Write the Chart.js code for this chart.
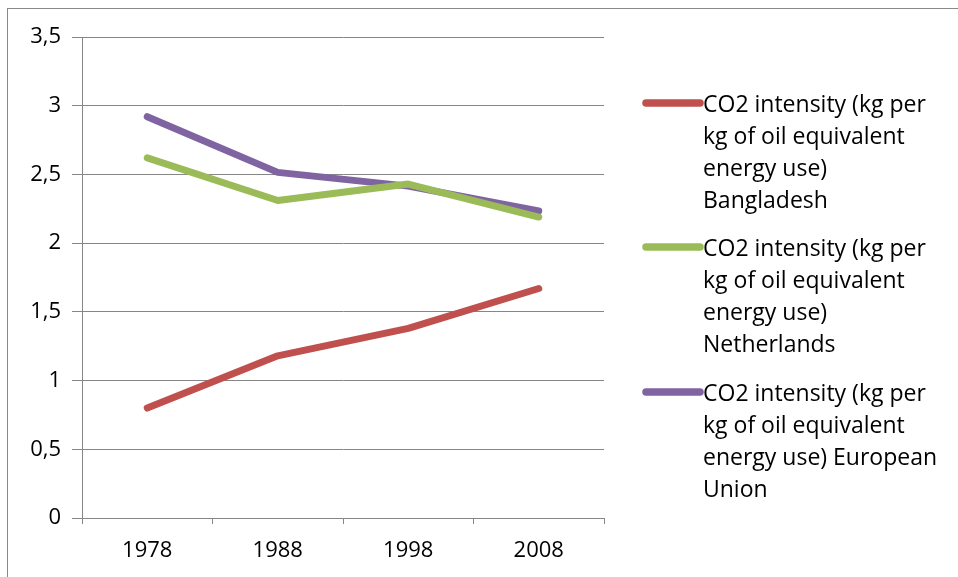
<!DOCTYPE html>
<html>
<head>
<meta charset="utf-8">
<script src="https://cdn.jsdelivr.net/npm/chart.js@4"></script>
<style>
html,body{margin:0;padding:0;background:#fff;}
#wrap{position:relative;width:958px;height:577px;}
</style>
</head>
<body>
<div id="wrap"><canvas id="c" width="958" height="577"></canvas></div>
<script>
const categories = ['1978', '1988', '1998', '2008'];
const bangladesh = [0.80, 1.18, 1.38, 1.67];
const netherlands = [2.62, 2.31, 2.43, 2.19];
const europeanUnion = [2.92, 2.515, 2.415, 2.235];
const seriesLabels = [
  ['CO2 intensity (kg per', 'kg of oil equivalent', 'energy use)', 'Bangladesh'],
  ['CO2 intensity (kg per', 'kg of oil equivalent', 'energy use)', 'Netherlands'],
  ['CO2 intensity (kg per', 'kg of oil equivalent', 'energy use) European', 'Union']
];
const seriesColors = ['#C0504D', '#9BBB59', '#8064A2'];
const yTicks = [0, 0.5, 1, 1.5, 2, 2.5, 3, 3.5];

const FONT = '"Open Sans", "Liberation Sans", sans-serif';

const framePlugin = {
  id: 'frame',
  beforeDraw(chart) {
    const ctx = chart.ctx;
    ctx.save();
    ctx.fillStyle = '#fff';
    ctx.fillRect(0, 0, chart.width, chart.height);
    ctx.strokeStyle = '#8a8a8a';
    ctx.lineWidth = 1;
    ctx.strokeRect(7.5, 8.5, chart.width + 10, chart.height + 10);
    ctx.restore();
  }
};

const legendPlugin = {
  id: 'customLegend',
  afterDraw(chart) {
    const ctx = chart.ctx;
    const starts = [103, 247, 392];
    const lineH = 32;
    ctx.save();
    ctx.font = '23px ' + FONT;
    ctx.textBaseline = 'middle';
    ctx.textAlign = 'left';
    chart.data.datasets.forEach((ds, i) => {
      const y0 = starts[i];
      ctx.strokeStyle = ds.borderColor;
      ctx.lineWidth = 7.5;
      ctx.lineCap = 'round';
      ctx.beginPath();
      ctx.moveTo(646, y0);
      ctx.lineTo(700, y0);
      ctx.stroke();
      ctx.fillStyle = '#000';
      seriesLabels[i].forEach((t, k) => {
        ctx.fillText(t, 703, y0 + 2 + k * lineH);
      });
    });
    ctx.restore();
  }
};

const makeDs = (data, i) => ({
  label: seriesLabels[i].join(' '),
  data: data,
  borderColor: seriesColors[i],
  backgroundColor: seriesColors[i],
  borderWidth: 7,
  borderCapStyle: 'round',
  borderJoinStyle: 'round',
  pointRadius: 0,
  pointHoverRadius: 0,
  tension: 0,
  fill: false
});

new Chart(document.getElementById('c'), {
  type: 'line',
  data: {
    labels: categories,
    datasets: [makeDs(bangladesh, 0), makeDs(netherlands, 1), makeDs(europeanUnion, 2)]
  },
  options: {
    responsive: false,
    animation: false,
    events: [],
    layout: { padding: { left: 0, right: 354, top: 37, bottom: 0 } },
    plugins: { legend: { display: false }, tooltip: { enabled: false } },
    scales: {
      x: {
        type: 'category',
        offset: true,
        grid: { display: true, drawOnChartArea: false, drawTicks: true, tickLength: 6, color: '#868686', offset: true },
        border: { display: true, color: '#868686', width: 1 },
        ticks: { color: '#000', font: { family: FONT, size: 22 }, padding: 14, maxRotation: 0 },
        afterFit(s) { s.height = 59; }
      },
      y: {
        min: 0, max: 3.5,
        afterBuildTicks(s) { s.ticks = yTicks.map(v => ({ value: v })); },
        grid: { color: '#868686', lineWidth: 1, drawTicks: true, tickLength: 10 },
        border: { display: true, color: '#868686', width: 1 },
        ticks: {
          color: '#000', font: { family: FONT, size: 22 }, padding: 11,
          callback: v => String(v).replace('.', ',')
        },
        afterFit(s) { s.width = 82; }
      }
    }
  },
  plugins: [framePlugin, legendPlugin]
});
</script>
</body>
</html>
